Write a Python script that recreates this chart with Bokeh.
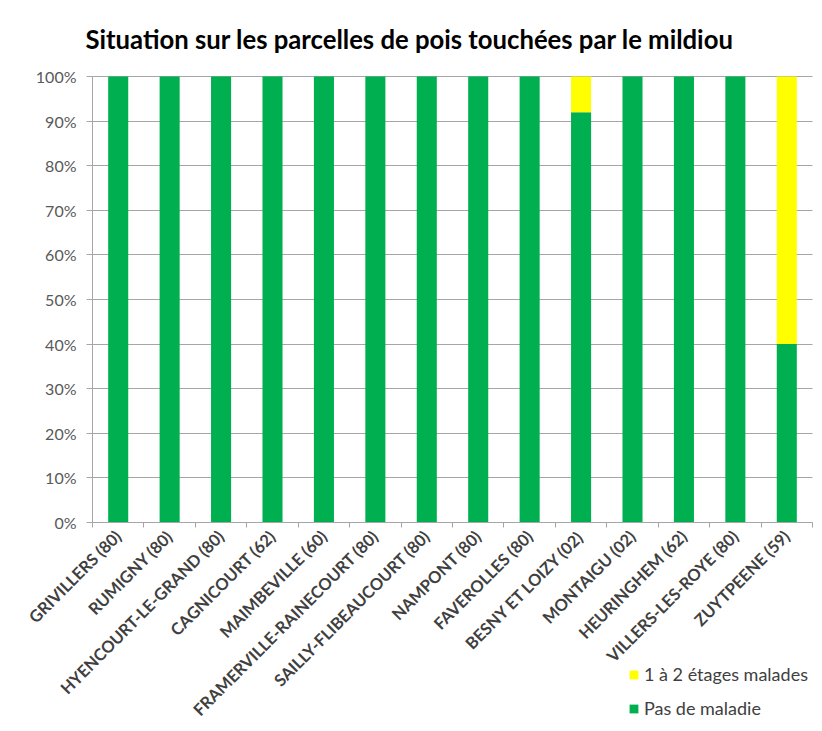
import math
from bokeh.plotting import figure
from bokeh.models import Range1d, FixedTicker, Legend, LegendItem, NumeralTickFormatter, Grid, Label
from bokeh.embed import file_html
from bokeh.resources import INLINE

title_text = "Situation sur les parcelles de pois touchées par le mildiou"
categories = ["GRIVILLERS (80)", "RUMIGNY (80)", "HYENCOURT-LE-GRAND (80)", "CAGNICOURT (62)",
              "MAIMBEVILLE (60)", "FRAMERVILLE-RAINECOURT (80)", "SAILLY-FLIBEAUCOURT (80)",
              "NAMPONT (80)", "FAVEROLLES (80)", "BESNY ET LOIZY (02)", "MONTAIGU (02)",
              "HEURINGHEM (62)", "VILLERS-LES-ROYE (80)", "ZUYTPEENE (59)"]
pas_de_maladie = [1.0, 1.0, 1.0, 1.0, 1.0, 1.0, 1.0, 1.0, 1.0, 0.92, 1.0, 1.0, 1.0, 0.40]
etages_malades = [0.0, 0.0, 0.0, 0.0, 0.0, 0.0, 0.0, 0.0, 0.0, 0.08, 0.0, 0.0, 0.0, 0.60]
y_ticks = [0, 0.1, 0.2, 0.3, 0.4, 0.5, 0.6, 0.7, 0.8, 0.9, 1.0]

n = len(categories)
xs = [i + 0.5 for i in range(n)]
tops = [a + b for a, b in zip(pas_de_maladie, etages_malades)]

# The frame covers the whole canvas, so that the rotated category labels,
# the tick labels and the legend are not clipped; the axes sit at 0.
W, H = 814, 723
AXIS_X = 92
RIGHT_PX = 812
TOP_PX = 76
ZERO_PX = 522
py_unit = ZERO_PX - TOP_PX
px_cat = (RIGHT_PX - AXIS_X) / n
x_start = -AXIS_X / px_cat
x_end = n + (W - RIGHT_PX) / px_cat
y_start = -(H - ZERO_PX) / py_unit
y_end = 1.0 + TOP_PX / py_unit

p = figure(width=W, height=H, output_backend="svg", toolbar_location=None,
           x_range=Range1d(x_start, x_end), y_range=Range1d(y_start, y_end),
           min_border=0)
p.outline_line_color = None

title = Label(x=85, y=H - 38, x_units="screen", y_units="screen", text=title_text,
              text_font="Lato", text_font_size="25.7px", text_font_style="bold",
              text_color="#000000", text_align="left", text_baseline="alphabetic")
p.add_layout(title)

g = p.vbar(x=xs, top=pas_de_maladie, bottom=0, width=0.39, fill_color="#00b050", line_color=None)
yb = p.vbar(x=xs, top=tops, bottom=pas_de_maladie, width=0.39, fill_color="#ffff00", line_color=None)

p.xaxis.fixed_location = 0
p.xaxis.bounds = (0, n)
p.xaxis.ticker = FixedTicker(ticks=xs, minor_ticks=list(range(n + 1)))
p.xaxis.major_label_overrides = {x: c for x, c in zip(xs, categories)}
p.xaxis.major_label_orientation = math.pi / 4
p.xaxis.major_tick_out = 0
p.xaxis.major_tick_in = 0
p.xaxis.minor_tick_out = 5
p.xaxis.minor_tick_in = 0
p.xaxis.minor_tick_line_color = "#a6a6a6"
p.xaxis.axis_line_color = "#a6a6a6"
p.xaxis.major_label_text_font = "Lato"
p.xaxis.major_label_text_font_style = "bold"
p.xaxis.major_label_text_font_size = "16.5px"
p.xaxis.major_label_text_color = "#404040"
p.xaxis.major_label_standoff = 6

p.yaxis.fixed_location = 0
p.yaxis.bounds = (0, 1)
p.yaxis.ticker = FixedTicker(ticks=y_ticks)
p.yaxis.formatter = NumeralTickFormatter(format="0%")
p.yaxis.major_tick_out = 6
p.yaxis.major_tick_in = 0
p.yaxis.minor_tick_line_color = None
p.yaxis.axis_line_color = "#a6a6a6"
p.yaxis.major_tick_line_color = "#a6a6a6"
p.yaxis.major_label_text_font = "Lato"
p.yaxis.major_label_text_font_size = "16px"
p.yaxis.major_label_text_color = "#595959"
p.yaxis.major_label_standoff = 10

p.xgrid.grid_line_color = None
p.ygrid.grid_line_color = "#a6a6a6"
p.ygrid.ticker = FixedTicker(ticks=y_ticks)
if "cross_bounds" in Grid.properties():
    p.ygrid.cross_bounds = (0, n)
else:
    p.ygrid.grid_line_color = None
    p.segment(x0=[0] * len(y_ticks), x1=[n] * len(y_ticks), y0=y_ticks, y1=y_ticks,
              line_color="#a6a6a6", line_width=1, level="underlay")

legend = Legend(items=[LegendItem(label="1 à 2 étages malades", renderers=[yb]),
                       LegendItem(label="Pas de maladie", renderers=[g])],
                location=(628, 4))
legend.label_text_font = "Lato"
legend.label_text_font_size = "18px"
legend.label_text_color = "#404040"
legend.glyph_width = 11
legend.glyph_height = 11
legend.label_standoff = 5
legend.spacing = 12
legend.padding = 4
legend.border_line_color = None
legend.background_fill_alpha = 0
p.add_layout(legend, "center")

open("out.html", "w").write(file_html(p, INLINE))
